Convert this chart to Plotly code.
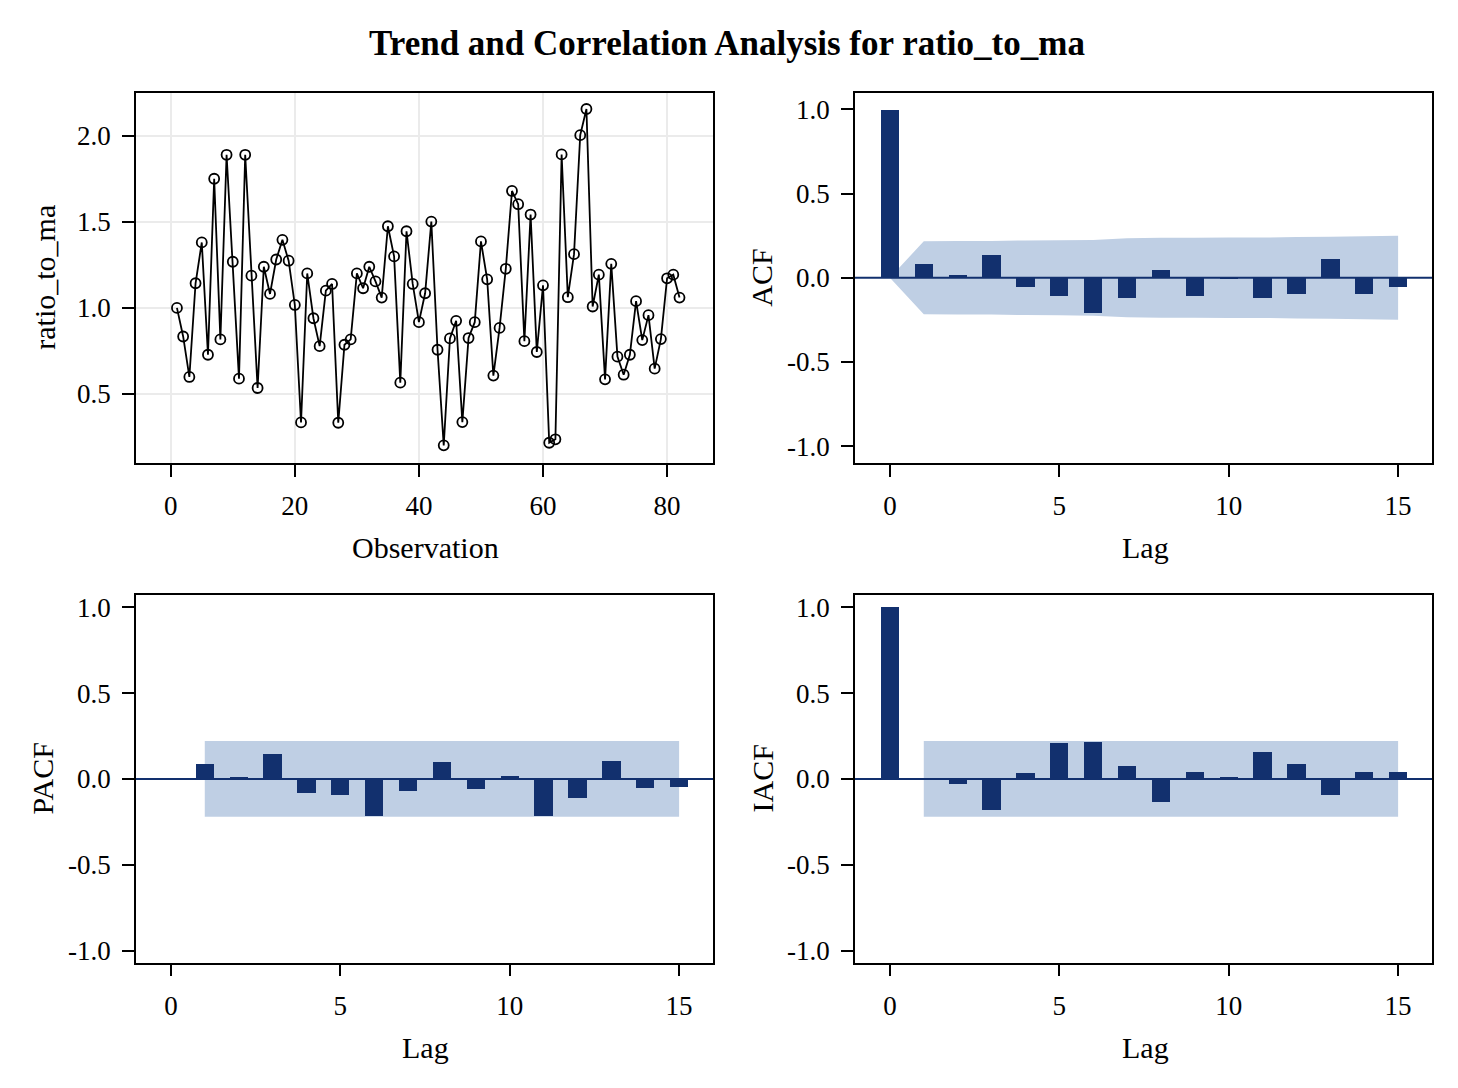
import plotly.graph_objects as go

# ---------------- data ----------------
observation = list(range(1, 83))
ratio_to_ma = [1.00, 0.834, 0.599, 1.143, 1.380, 0.728, 1.750, 0.817, 1.889, 1.268,
               0.589, 1.889, 1.187, 0.535, 1.239, 1.081, 1.281, 1.395, 1.274, 1.017,
               0.335, 1.200, 0.940, 0.778, 1.100, 1.139, 0.333, 0.786, 0.817, 1.200,
               1.114, 1.239, 1.154, 1.060, 1.474, 1.299, 0.566, 1.445, 1.139, 0.917,
               1.085, 1.501, 0.757, 0.202, 0.823, 0.925, 0.337, 0.825, 0.917, 1.386,
               1.166, 0.607, 0.884, 1.227, 1.679, 1.602, 0.807, 1.542, 0.744, 1.131,
               0.217, 0.237, 1.891, 1.062, 1.312, 2.003, 2.155, 1.008, 1.193, 0.585,
               1.256, 0.717, 0.612, 0.728, 1.039, 0.813, 0.958, 0.647, 0.819, 1.172,
               1.193, 1.060]

lags = list(range(0, 16))
acf = [1.0, 0.085, 0.016, 0.140, -0.055, -0.107, -0.205, -0.120, 0.047, -0.105,
       -0.004, -0.118, -0.093, 0.112, -0.095, -0.051]
acf_band = [0.0, 0.217, 0.218, 0.218, 0.222, 0.223, 0.225, 0.234, 0.237, 0.237,
            0.239, 0.239, 0.242, 0.244, 0.246, 0.250]

pacf_lags = list(range(1, 16))
pacf = [0.087, 0.008, 0.141, -0.081, -0.098, -0.218, -0.071, 0.096, -0.062, 0.013,
        -0.218, -0.114, 0.100, -0.054, -0.046]
pacf_band = 0.221

iacf = [1.0, -0.006, -0.033, -0.181, 0.033, 0.205, 0.214, 0.075, -0.135, 0.037,
        0.012, 0.156, 0.087, -0.093, 0.037, 0.037]
iacf_band = 0.221

corr_ticks = [-1.0, -0.5, 0.0, 0.5, 1.0]
corr_ticktext = ["-1.0", "-0.5", "0.0", "0.5", "1.0"]
lag_ticks = [0, 5, 10, 15]
obs_ticks = [0, 20, 40, 60, 80]
ratio_ticks = [0.5, 1.0, 1.5, 2.0]
ratio_ticktext = ["0.5", "1.0", "1.5", "2.0"]

# ---------------- style ----------------
OFF = 8                      # page body margin
W, H = 1458 - OFF, 1088 - OFF
FONT = "Liberation Serif"
NAVY = "#12306e"
BAND = "#bfcfe4"
TICK_FONT = 27
LABEL_FONT = 30

def px_x(p):
    return (p - OFF) / W

def px_y(p):
    return 1 - (p - OFF) / H

xl = [px_x(136), px_x(713)]
xr = [px_x(855), px_x(1432)]
yt = [px_y(463), px_y(91)]
yb = [px_y(965), px_y(596)]

fig = go.Figure()

# top-left series
fig.add_trace(go.Scatter(
    x=observation, y=ratio_to_ma, mode="lines+markers",
    line=dict(color="black", width=1.8),
    marker=dict(symbol="circle-open", size=10, color="black", line=dict(width=1.8)),
    xaxis="x", yaxis="y", showlegend=False))

# bars
fig.add_trace(go.Bar(x=lags, y=acf, width=0.54, marker=dict(color=NAVY, line=dict(width=0)),
                     xaxis="x2", yaxis="y2", showlegend=False))
fig.add_trace(go.Bar(x=pacf_lags, y=pacf, width=0.54, marker=dict(color=NAVY, line=dict(width=0)),
                     xaxis="x3", yaxis="y3", showlegend=False))
fig.add_trace(go.Bar(x=lags, y=iacf, width=0.54, marker=dict(color=NAVY, line=dict(width=0)),
                     xaxis="x4", yaxis="y4", showlegend=False))

common = dict(showline=True, mirror=True, linecolor="black", linewidth=1.5,
              ticks="outside", ticklen=12, tickwidth=1.5, tickcolor="black",
              tickfont=dict(family=FONT, size=TICK_FONT, color="black"),
              zeroline=False, ticklabelstandoff=6)

fig.update_layout(
    width=W, height=H, margin=dict(l=0, r=0, t=0, b=0),
    paper_bgcolor="white", plot_bgcolor="white", bargap=0,
    font=dict(family=FONT, color="black"),
    xaxis=dict(domain=xl, anchor="y", range=[-5.6, 87.4], tickvals=obs_ticks,
               showgrid=True, gridcolor="#ebebeb", gridwidth=1.5, **common),
    yaxis=dict(domain=yt, anchor="x", range=[0.10, 2.25], tickvals=ratio_ticks,
               ticktext=ratio_ticktext, showgrid=True, gridcolor="#ebebeb", gridwidth=1.5, **common),
    xaxis2=dict(domain=xr, anchor="y2", range=[-1.03, 16.0], tickvals=lag_ticks, showgrid=False, **common),
    yaxis2=dict(domain=yt, anchor="x2", range=[-1.1, 1.1], tickvals=corr_ticks,
                ticktext=corr_ticktext, showgrid=False, **common),
    xaxis3=dict(domain=xl, anchor="y3", range=[-1.03, 16.0], tickvals=lag_ticks, showgrid=False, **common),
    yaxis3=dict(domain=yb, anchor="x3", range=[-1.07, 1.07], tickvals=corr_ticks,
                ticktext=corr_ticktext, showgrid=False, **common),
    xaxis4=dict(domain=xr, anchor="y4", range=[-1.03, 16.0], tickvals=lag_ticks, showgrid=False, **common),
    yaxis4=dict(domain=yb, anchor="x4", range=[-1.07, 1.07], tickvals=corr_ticks,
                ticktext=corr_ticktext, showgrid=False, **common),
)

# confidence bands (below the bars)
acf_path = "M " + " L ".join(f"{l},{b}" for l, b in zip(lags, acf_band))
acf_path += " L " + " L ".join(f"{l},{-b}" for l, b in zip(lags[::-1], acf_band[::-1])) + " Z"
fig.add_shape(type="path", path=acf_path, xref="x2", yref="y2",
              fillcolor=BAND, line=dict(width=0), layer="below")
for xa, ya, band, lo, hi in [("x3", "y3", pacf_band, pacf_lags[0], pacf_lags[-1]),
                             ("x4", "y4", iacf_band, lags[1], lags[-1])]:
    fig.add_shape(type="rect", xref=xa, yref=ya, x0=lo, x1=hi, y0=-band, y1=band,
                  fillcolor=BAND, line=dict(width=0), layer="below")

# zero baselines
for xa, ya in [("x2", "y2"), ("x3", "y3"), ("x4", "y4")]:
    fig.add_shape(type="line", xref=f"{xa} domain", yref=ya, x0=0, x1=1, y0=0, y1=0,
                  line=dict(color=NAVY, width=2), layer="above")

# title and axis titles
def ann(text, x, y, size=LABEL_FONT, angle=0, bold=False):
    fig.add_annotation(text=f"<b>{text}</b>" if bold else text, x=px_x(x), y=px_y(y),
                       xref="paper", yref="paper", showarrow=False, textangle=angle,
                       font=dict(family=FONT, size=size, color="black"),
                       xanchor="center", yanchor="middle")

ann("Trend and Correlation Analysis for ratio_to_ma", 727, 42, size=35, bold=True)
ann("Observation", 425, 548)
ann("Lag", 1145, 548)
ann("Lag", 425, 1050)
ann("Lag", 1145, 1050)
ann("ratio_to_ma", 45, 277, angle=-90)
ann("ACF", 762, 277, angle=-90)
ann("PACF", 42, 780, angle=-90)
ann("IACF", 762, 780, angle=-90)

fig.write_html("out.html")
